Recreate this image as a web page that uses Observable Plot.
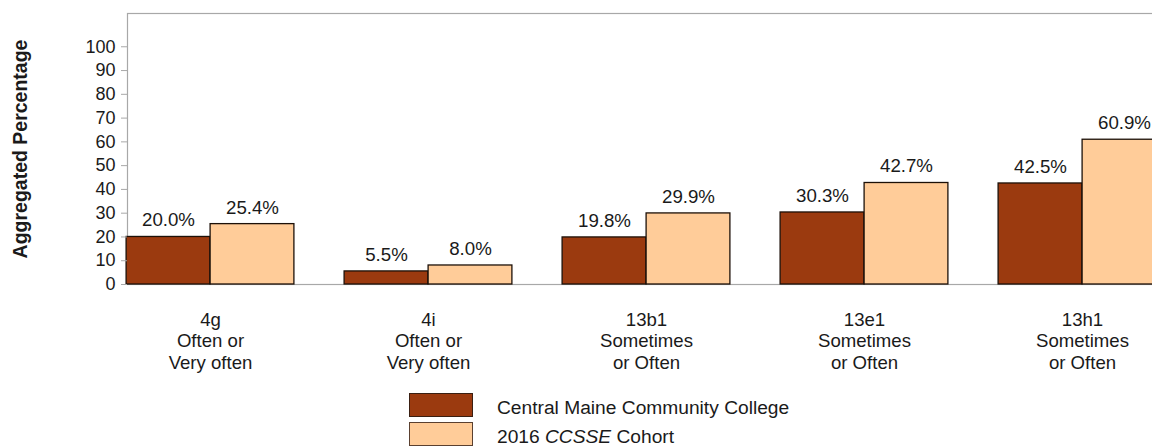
<!DOCTYPE html>
<html>
<head>
<meta charset="utf-8">
<script src="https://cdn.jsdelivr.net/npm/d3@7"></script>
<script src="https://cdn.jsdelivr.net/npm/@observablehq/plot@0.6"></script>
<style>
  html, body { margin: 0; padding: 0; background: #fff; overflow: hidden; }
  body { width: 1152px; height: 447px; position: relative; font-family: "Liberation Sans", Arial, sans-serif; color: #1a1a1a; }
  #chart svg { max-width: none !important; display: block; }
  #legend { position: absolute; left: 409px; top: 393px; }
  .row { position: absolute; left: 0; width: 600px; height: 26px; }
  .sw { position: absolute; left: 0; top: 0; width: 62px; height: 22px; border: 1.5px solid #3a1f12; }
  .lab { position: absolute; left: 88px; top: 5px; font-size: 19.2px; line-height: 19px; white-space: nowrap; }
</style>
</head>
<body>
<div id="chart"></div>
<div id="legend"></div>
<script>
// ---- data ----
const codes = ["4g", "4i", "13b1", "13e1", "13h1"];
const responses = ["Often or\nVery often", "Often or\nVery often", "Sometimes\nor Often", "Sometimes\nor Often", "Sometimes\nor Often"];
const seriesNames = ["Central Maine Community College", "2016 CCSSE Cohort"];
const collegeValues = [20.0, 5.5, 19.8, 30.3, 42.5];
const cohortValues = [25.4, 8.0, 29.9, 42.7, 60.9];
const yTicks = [0, 10, 20, 30, 40, 50, 60, 70, 80, 90, 100];
const seriesColors = ["#9b3a0f", "#ffcc99"];

const rows = [];
codes.forEach((c, i) => {
  rows.push({code: c, series: seriesNames[0], value: collegeValues[i]});
  rows.push({code: c, series: seriesNames[1], value: cohortValues[i]});
});
const college = rows.filter(d => d.series === seriesNames[0]);
const cohort = rows.filter(d => d.series === seriesNames[1]);
const labelOf = new Map(codes.map((c, i) => [c, c + "\n" + responses[i]]));

const chart = Plot.plot({
  width: 1200,
  height: 384,
  marginLeft: 127,
  marginRight: 0,
  marginTop: 13,
  marginBottom: 100,
  style: {fontFamily: '"Liberation Sans", Arial, sans-serif', color: "#1a1a1a", background: "#fff"},
  x: {type: "band", domain: codes, range: [100.9, 1192.1], padding: 0, axis: null},
  y: {domain: [0, 114], axis: null},
  color: {domain: seriesNames, range: seriesColors},
  marks: [
    Plot.frame({stroke: "#a8a8a8", strokeWidth: 1.2}),
    Plot.barY(college, {x: "code", y: "value", fill: "series", stroke: "#1c1008", strokeWidth: 1.3, insetLeft: 25.1, insetRight: 109.1}),
    Plot.barY(cohort, {x: "code", y: "value", fill: "series", stroke: "#1c1008", strokeWidth: 1.3, insetLeft: 109.1, insetRight: 25.1}),
    Plot.text(college, {x: "code", y: "value", text: d => d.value.toFixed(1) + "%", dx: -42, dy: -10.5, lineAnchor: "bottom", fontSize: 18.7, fill: "#1a1a1a"}),
    Plot.text(cohort, {x: "code", y: "value", text: d => d.value.toFixed(1) + "%", dx: 42, dy: -10.5, lineAnchor: "bottom", fontSize: 18.7, fill: "#1a1a1a"}),
    Plot.axisY({ticks: yTicks, tickSize: 6, tickPadding: 6, fontSize: 18, stroke: "#a8a8a8", fill: "#1a1a1a", label: null}),
    Plot.axisX({tickSize: 0, tickPadding: 26, fontSize: 18.6, lineHeight: 1.16, fill: "#1a1a1a", label: null, tickFormat: c => labelOf.get(c)}),
    Plot.text(["Aggregated Percentage"], {frameAnchor: "left", text: d => d, rotate: -90, dx: -107, fontSize: 19.5, fontWeight: "bold", textAnchor: "middle", lineAnchor: "middle", fill: "#1a1a1a"})
  ]
});
document.getElementById("chart").appendChild(chart);

// ---- legend ----
const legend = document.getElementById("legend");
seriesNames.forEach((name, i) => {
  const row = document.createElement("div");
  row.className = "row";
  row.style.top = (i * 28.5) + "px";
  const sw = document.createElement("div");
  sw.className = "sw";
  sw.style.background = seriesColors[i];
  if (i === 1) sw.style.borderColor = "#5a4030";
  const lab = document.createElement("div");
  lab.className = "lab";
  if (name.includes("CCSSE")) {
    const parts = name.split("CCSSE");
    lab.append(parts[0]);
    const it = document.createElement("i");
    it.textContent = "CCSSE";
    lab.append(it);
    lab.append(parts[1]);
  } else {
    lab.textContent = name;
  }
  row.append(sw, lab);
  legend.append(row);
});
</script>
</body>
</html>
